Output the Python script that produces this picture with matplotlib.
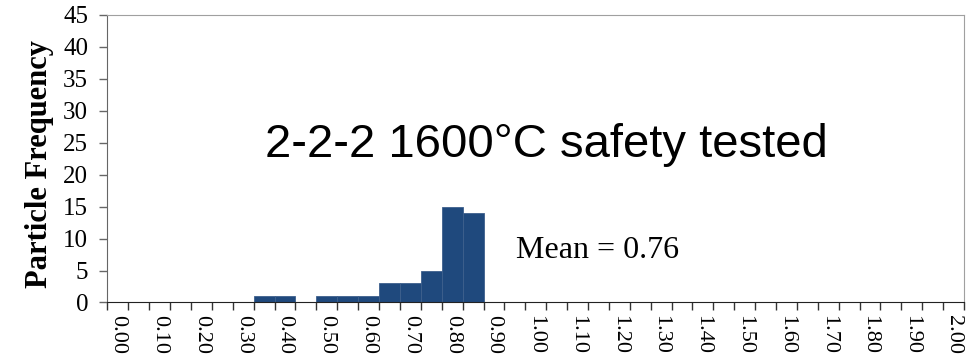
import numpy as np
import matplotlib
matplotlib.use("Agg")
import matplotlib.pyplot as plt

# Particle size bins (category labels) and counts per bin
bin_labels = [f"{0.05 * i:.2f}" for i in range(41)]
counts = [0, 0, 0, 0, 0, 0, 0, 1, 1, 0,
          1, 1, 1, 3, 3, 5, 15, 14, 0, 0,
          0, 0, 0, 0, 0, 0, 0, 0, 0, 0,
          0, 0, 0, 0, 0, 0, 0, 0, 0, 0, 0]
title_text = "2-2-2 1600°C safety tested"
mean_text = "Mean = 0.76"
y_ticks = list(range(0, 50, 5))

serif = ["Liberation Serif", "DejaVu Serif"]
sans = ["Liberation Sans", "DejaVu Sans"]

fig = plt.figure(figsize=(9.77, 3.62), dpi=100)
ax = fig.add_axes([0.110, 0.1644, 0.8767, 0.7942])

x = np.arange(len(bin_labels))
ax.bar(x, counts, width=1.0, color="#1F497D", edgecolor="#3d5f8c", linewidth=0.6)

ax.set_xlim(-0.5, len(bin_labels) - 0.5)
ax.set_ylim(0, 45)

# Labels on every other category, tick marks on category boundaries
ax.set_xticks(x[::2])
ax.set_xticklabels(bin_labels[::2], rotation=270, family=serif, fontsize=16)
ax.tick_params(axis="x", which="major", length=0, pad=9)
ax.set_xticks(np.arange(-0.5, len(bin_labels)), minor=True)
ax.tick_params(axis="x", which="minor", length=6, width=1, color="#333333")

ax.set_yticks(y_ticks)
ax.set_yticklabels([str(v) for v in y_ticks], family=serif, fontsize=18)
ax.tick_params(axis="y", length=6, width=1, color="#666666", pad=8)

fig.text(40, 198, "Particle Frequency", transform=None, family=serif, fontsize=22,
         fontweight="bold", rotation=90, ha="center", va="center")

for side in ("top", "right"):
    ax.spines[side].set_color("#a0a0a0")
ax.spines["left"].set_color("#666666")
ax.spines["bottom"].set_color("#222222")

ax.text(265, 362 - 157, title_text, transform=None, family=sans, fontsize=34,
        ha="left", va="baseline")
ax.text(516, 362 - 258, mean_text, transform=None, family=serif, fontsize=23,
        ha="left", va="baseline")

fig.savefig("out.png", dpi=100)
